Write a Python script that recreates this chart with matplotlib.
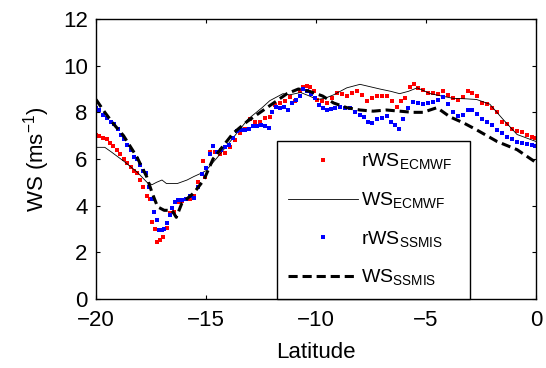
import matplotlib
matplotlib.use("Agg")
import matplotlib.pyplot as plt
import numpy as np

plt.rcParams['font.family'] = ['Liberation Sans', 'DejaVu Sans']
plt.rcParams['mathtext.fontset'] = 'custom'
plt.rcParams['mathtext.rm'] = 'Liberation Sans'

# rWS_ECMWF (red dots)
red_lat = [-20.0, -19.86, -19.68, -19.5, -19.36, -19.23, -19.05, -18.9, -18.73, -18.6,
           -18.4, -18.27, -18.14, -18.0, -17.86, -17.68, -17.55, -17.45, -17.3, -17.23,
           -17.1, -16.95, -16.77, -16.64, -16.45, -16.27, -16.1, -15.9, -15.73, -15.55,
           -15.36, -15.14, -15.05, -14.8, -14.6, -14.36, -14.14, -13.9, -13.68, -13.45,
           -13.23, -13.0, -12.77, -12.55, -12.32, -12.1, -11.86, -11.64, -11.4, -11.2,
           -10.95, -10.73, -10.6, -10.4, -10.27, -10.1, -9.95, -9.73, -9.5, -9.27,
           -9.05, -8.8, -8.6, -8.36, -8.14, -7.9, -7.68, -7.45, -7.23, -7.0,
           -6.77, -6.55, -6.32, -6.14, -5.95, -5.73, -5.55, -5.36, -5.14, -4.9,
           -4.68, -4.45, -4.23, -4.0, -3.77, -3.55, -3.32, -3.1, -2.9, -2.68,
           -2.45, -2.23, -2.0, -1.77, -1.55, -1.32, -1.1, -0.86, -0.64, -0.41,
           -0.18, -0.05]
red_ws = [7.05, 7.0, 6.9, 6.85, 6.7, 6.55, 6.4, 6.2, 6.0, 5.85,
          5.65, 5.5, 5.4, 5.1, 4.8, 4.4, 4.3, 3.3, 3.0, 2.45,
          2.55, 2.65, 3.05, 3.7, 3.75, 4.15, 4.2, 4.3, 4.3, 4.4,
          5.0, 5.9, 5.25, 6.3, 6.3, 6.2, 6.25, 6.5, 6.8, 7.1,
          7.3, 7.7, 7.6, 7.6, 7.75, 7.8, 8.3, 8.4, 8.5, 8.65,
          8.5, 8.9, 9.1, 9.15, 9.1, 8.9, 8.55, 8.5, 8.4, 8.6,
          8.85, 8.8, 8.7, 8.85, 8.9, 8.75, 8.5, 8.6, 8.7, 8.7,
          8.7, 8.5, 8.25, 8.5, 8.6, 9.1, 9.2, 9.05, 8.95, 8.85,
          8.85, 8.8, 8.9, 8.75, 8.6, 8.55, 8.65, 8.9, 8.85, 8.7,
          8.4, 8.35, 8.2, 8.0, 7.6, 7.5, 7.3, 7.2, 7.15, 7.05,
          6.95, 6.9]

# WS_ECMWF (thin black line)
ec_lat = [-20.0, -19.6, -19.3, -18.73, -18.14, -17.68, -17.45, -17.25, -17.0, -16.8,
          -16.3, -15.86, -15.55, -15.2, -15.0, -14.5, -13.9, -13.1, -12.45, -12.1,
          -11.5, -11.2, -10.7, -10.3, -9.95, -9.6, -9.2, -8.6, -8.0, -7.55,
          -7.1, -6.6, -6.2, -5.8, -5.4, -4.8, -4.3, -3.77, -3.2, -2.7,
          -2.1, -1.5, -0.86, 0.0]
ec_ws = [6.5, 6.5, 6.3, 5.9, 5.45, 5.0, 4.9, 5.0, 5.1, 4.95,
         4.95, 5.1, 5.25, 5.4, 5.5, 6.05, 6.75, 7.7, 8.2, 8.5,
         8.8, 8.75, 8.85, 8.7, 8.55, 8.6, 8.75, 9.05, 9.2, 9.1,
         9.0, 8.9, 8.8, 8.9, 9.05, 8.8, 8.7, 8.6, 8.58, 8.55,
         8.35, 7.7, 7.05, 6.75]

# rWS_SSMIS (blue dots)
blue_lat = [-20.0, -19.86, -19.68, -19.5, -19.3, -19.18, -19.0, -18.86, -18.73, -18.6,
            -18.4, -18.27, -18.14, -18.0, -17.86, -17.73, -17.6, -17.45, -17.36, -17.23,
            -17.14, -17.0, -16.9, -16.77, -16.64, -16.55, -16.4, -16.27, -16.1, -15.9,
            -15.73, -15.55, -15.36, -15.18, -15.0, -14.8, -14.68, -14.5, -14.3, -14.14,
            -13.95, -13.77, -13.6, -13.4, -13.23, -13.05, -12.86, -12.68, -12.5, -12.32,
            -12.14, -12.0, -11.8, -11.64, -11.45, -11.27, -11.1, -10.9, -10.73, -10.6,
            -10.4, -10.23, -10.05, -9.86, -9.7, -9.5, -9.32, -9.14, -8.9, -8.68,
            -8.45, -8.23, -8.0, -7.8, -7.64, -7.45, -7.23, -7.0, -6.77, -6.6,
            -6.4, -6.23, -6.05, -5.8, -5.6, -5.36, -5.14, -4.9, -4.68, -4.45,
            -4.23, -4.0, -3.77, -3.55, -3.32, -3.1, -2.9, -2.68, -2.45, -2.23,
            -2.0, -1.77, -1.55, -1.32, -1.1, -0.86, -0.64, -0.41, -0.18, -0.05]
blue_ws = [8.2, 8.1, 7.9, 7.75, 7.6, 7.5, 7.3, 7.05, 6.85, 6.6,
           6.4, 6.1, 6.0, 5.75, 5.5, 5.4, 4.8, 4.3, 3.75, 3.4,
           2.95, 2.95, 3.0, 3.25, 3.6, 3.9, 4.15, 4.25, 4.25, 4.3,
           4.4, 4.35, 4.8, 5.35, 5.6, 6.2, 6.55, 6.3, 6.4, 6.5,
           6.6, 6.9, 7.2, 7.25, 7.25, 7.3, 7.4, 7.4, 7.45, 7.4,
           7.35, 8.0, 8.25, 8.2, 8.25, 8.1, 8.4, 8.55, 8.7, 9.0,
           8.9, 8.8, 8.6, 8.3, 8.2, 8.1, 8.15, 8.2, 8.25, 8.2,
           8.2, 8.0, 7.9, 7.8, 7.6, 7.55, 7.7, 7.75, 7.85, 7.6,
           7.45, 7.3, 7.7, 8.2, 8.45, 8.4, 8.35, 8.4, 8.45, 8.55,
           8.65, 8.35, 8.0, 7.85, 7.9, 8.1, 8.1, 7.95, 7.7, 7.6,
           7.45, 7.25, 7.1, 6.95, 6.85, 6.75, 6.7, 6.65, 6.6, 6.55]

# WS_SSMIS (thick dashed line)
ss_lat = [-20.0, -19.6, -19.2, -18.75, -18.15, -17.7, -17.45, -17.2, -16.9, -16.55,
          -16.35, -16.1, -15.55, -15.1, -14.68, -14.23, -13.77, -13.14, -12.23, -11.32,
          -10.8, -10.3, -9.7, -9.2, -8.6, -8.0, -7.4, -6.8, -6.2, -5.6,
          -5.14, -4.5, -3.9, -3.3, -2.7, -1.77, -0.86, 0.0]
ss_ws = [8.55, 8.0, 7.5, 7.0, 6.1, 5.25, 4.55, 3.95, 3.8, 3.8,
         3.5, 4.1, 4.55, 5.1, 6.0, 6.55, 7.1, 7.6, 8.2, 8.8,
         9.0, 8.9, 8.7, 8.4, 8.2, 8.1, 8.05, 8.1, 8.05, 8.0,
         8.0, 8.2, 7.8, 7.55, 7.25, 6.75, 6.4, 5.85]

labels = [r'rWS$_\mathregular{ECMWF}$', r'WS$_\mathregular{ECMWF}$',
          r'rWS$_\mathregular{SSMIS}$', r'WS$_\mathregular{SSMIS}$']
x_ticks = [-20, -15, -10, -5, 0]
y_ticks = [0, 2, 4, 6, 8, 10, 12]

fig = plt.figure(figsize=(5.46, 3.68), dpi=100)
ax = fig.add_axes([96/546, 69/368, 440/546, 280/368])

ax.plot(red_lat, red_ws, linestyle='none', marker='s', markersize=2.8,
        color='#ff0000', markeredgewidth=0, label=labels[0])
ax.plot(ec_lat, ec_ws, color='black', linewidth=0.6, label=labels[1])
ax.plot(blue_lat, blue_ws, linestyle='none', marker='s', markersize=2.8,
        color='#0000ff', markeredgewidth=0, label=labels[2])
ax.plot(ss_lat, ss_ws, color='black', linewidth=2.2, linestyle=(0, (3, 1.6)),
        label=labels[3])

ax.set_xlim(-20, 0)
ax.set_ylim(0, 12)
ax.set_xticks(x_ticks)
ax.set_yticks(y_ticks)
ax.tick_params(direction='in', length=3, width=0.8, top=True, right=True,
               labelsize=16)
ax.tick_params(axis='x', pad=8)
ax.tick_params(axis='y', pad=6)
for s in ax.spines.values():
    s.set_linewidth(1.0)
ax.set_xlabel('Latitude', fontsize=16, labelpad=8)
ax.set_ylabel(r'WS (ms$^{-1}$)', fontsize=16, labelpad=8)

leg = ax.legend(loc='lower left', bbox_to_anchor=(0.411, 0.0, 0.439, 0.579),
                mode='expand', fontsize=14, frameon=True, fancybox=False,
                edgecolor='black', framealpha=1, borderaxespad=0,
                handlelength=3.6, handletextpad=0.2, labelspacing=0.95,
                borderpad=0.55, markerscale=1.0)
leg.get_frame().set_linewidth(1.0)

fig.savefig('out.png', dpi=100)
